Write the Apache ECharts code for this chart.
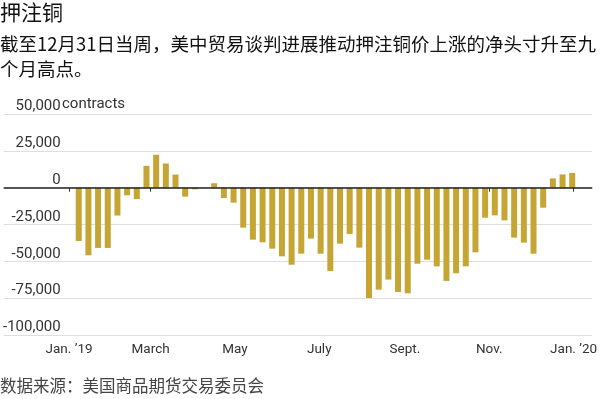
<!DOCTYPE html>
<html>
<head>
<meta charset="utf-8">
<script src="https://cdn.jsdelivr.net/npm/echarts@6/dist/echarts.min.js"></script>
<style>
  html, body { margin: 0; padding: 0; background: #fff; }
  #main { width: 600px; height: 399px; }
</style>
</head>
<body>
<div id="main"></div>
<script>
// 每周报告日期（2019年，周二）
var weeks = [
  '2019-01-08', '2019-01-15', '2019-01-22', '2019-01-29',
  '2019-02-05', '2019-02-12', '2019-02-19', '2019-02-26',
  '2019-03-05', '2019-03-12', '2019-03-19', '2019-03-26',
  '2019-04-02', '2019-04-09', '2019-04-16', '2019-04-23', '2019-04-30',
  '2019-05-07', '2019-05-14', '2019-05-21', '2019-05-28',
  '2019-06-04', '2019-06-11', '2019-06-18', '2019-06-25',
  '2019-07-02', '2019-07-09', '2019-07-16', '2019-07-23', '2019-07-30',
  '2019-08-06', '2019-08-13', '2019-08-20', '2019-08-27',
  '2019-09-03', '2019-09-10', '2019-09-17', '2019-09-24',
  '2019-10-01', '2019-10-08', '2019-10-15', '2019-10-22', '2019-10-29',
  '2019-11-05', '2019-11-12', '2019-11-19', '2019-11-26',
  '2019-12-03', '2019-12-10', '2019-12-17', '2019-12-24', '2019-12-31'
];
// 净头寸（合约数）
var netPositions = [
  -36200, -45900, -40900, -40900,
  -18900, -5200, -7700, 14800,
  22300, 16400, 8900, -6100,
  -1100, 0, 3000, -7000, -10200,
  -27100, -35300, -37100, -41400,
  -46600, -52300, -44800, -34600,
  -44800, -56600, -38000, -31400, -40700,
  -74900, -69200, -62400, -70800,
  -71700, -51600, -48900, -53400,
  -63300, -58100, -53400, -43900, -20400,
  -18800, -22200, -33900, -37300,
  -44800, -13600, 6300, 9000, 10000
];
// x轴刻度
var tickDates = ['2019-01-01', '2019-03-01', '2019-05-01', '2019-07-01', '2019-09-01', '2019-11-01', '2020-01-01'];
var tickLabels = ['Jan. \u201919', 'March', 'May', 'July', 'Sept.', 'Nov.', 'Jan. \u201920'];

// 日期 -> 距2019-01-01的天数
var ORIGIN = Date.UTC(2019, 0, 1);
function toDay(s) {
  var p = s.split('-');
  return Math.round((Date.UTC(+p[0], +p[1] - 1, +p[2]) - ORIGIN) / 86400000);
}

var tickDays = tickDates.map(toDay);
var labelOf = {};
tickDays.forEach(function (d, i) { labelOf[d] = tickLabels[i]; });

var barData = weeks.map(function (d, i) {
  return [toDay(d), netPositions[i]];
});

var latin = 'Roboto, sans-serif';
var cjk = '"Noto Sans CJK SC", sans-serif';

var myChart = echarts.init(document.getElementById('main'));
myChart.setOption({
  animation: false,
  grid: { left: 0, right: 0, top: 114, bottom: 64 },
  xAxis: {
    type: 'value',
    min: -47.3,
    max: 378.5,
    axisLine: { show: false },
    splitLine: { show: false },
    axisTick: {
      show: true,
      customValues: tickDays,
      length: 4,
      lineStyle: { color: '#333', width: 1 }
    },
    axisLabel: {
      customValues: tickDays,
      margin: 8,
      fontFamily: latin,
      fontSize: 13.5,
      color: '#333',
      formatter: function (v) { return labelOf[v] || ''; }
    }
  },
  yAxis: {
    type: 'value',
    min: -100000,
    max: 50000,
    interval: 25000,
    axisLine: { show: false },
    axisTick: { show: false },
    splitLine: { lineStyle: { color: '#dedede', width: 1 } },
    axisLabel: {
      inside: true,
      margin: 57,
      align: 'right',
      verticalAlign: 'bottom',
      fontFamily: latin,
      fontSize: 15,
      color: '#333',
      formatter: function (v) { return echarts.format.addCommas(v); }
    }
  },
  series: [{
    type: 'bar',
    data: barData,
    barWidth: 6,
    itemStyle: { color: '#c5a534' },
    markLine: {
      silent: true,
      symbol: 'none',
      label: { show: false },
      lineStyle: { color: '#222', width: 1.5, type: 'solid' },
      data: [{ yAxis: 0 }]
    }
  }],
  graphic: [
    {
      type: 'text', left: 0, top: 2,
      style: { text: '押注铜', font: '21px ' + cjk, fill: '#111' }
    },
    {
      type: 'text', left: 0, top: 31,
      style: {
        text: '截至12月31日当周，美中贸易谈判进展推动押注铜价上涨的净头寸升至九\n个月高点。',
        font: '18.5px ' + cjk, fill: '#111', lineHeight: 25.5
      }
    },
    {
      type: 'text', left: 62, top: 97,
      style: { text: 'contracts', font: '15px ' + latin, fill: '#333' }
    },
    {
      type: 'text', left: 0, top: 377,
      style: { text: '数据来源：美国商品期货交易委员会', font: '16.5px ' + cjk, fill: '#444' }
    }
  ]
});
</script>
</body>
</html>
